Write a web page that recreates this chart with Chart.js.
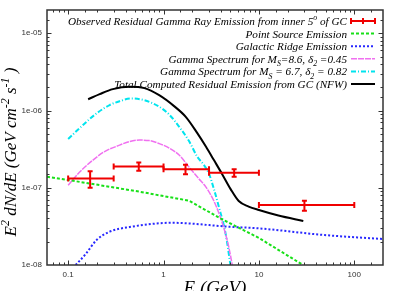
<!DOCTYPE html>
<html>
<head>
<meta charset="utf-8">
<script src="https://cdn.jsdelivr.net/npm/chart.js@4.4.1/dist/chart.umd.min.js"></script>
<style>
    html, body { margin: 0; padding: 0; background: #fff; }
    #wrap { width: 402px; height: 291px; }
</style>
</head>
<body>
<div id="wrap"><canvas id="gammaChart" width="402" height="291"></canvas></div>
<script>
// Observed residual emission from inner 5 deg of GC (GeV, GeV cm^-2 s^-1)
const obsEnergy = [0.17, 0.55, 1.7, 5.5, 30];
const obsEnergyLow = [0.1, 0.3, 1.0, 3.0, 10];
const obsEnergyHigh = [0.3, 1.0, 3.0, 10, 100];
const obsFlux = [1.32e-7, 1.89e-7, 1.73e-7, 1.56e-7, 5.97e-8];
const obsFluxLow = [1.0e-7, 1.66e-7, 1.50e-7, 1.39e-7, 5.04e-8];
const obsFluxHigh = [1.64e-7, 2.13e-7, 1.99e-7, 1.73e-7, 6.8e-8];

// Point source emission
const pointEnergy = [0.06, 0.1, 0.56, 1.0, 1.85, 3.96, 10, 29];
const pointFlux = [1.39e-7, 1.26e-7, 8.9e-8, 7.8e-8, 6.8e-8, 4.0e-8, 2.24e-8, 1.0e-8];

// Galactic ridge emission
const ridgeEnergy = [0.12, 0.153, 0.198, 0.272, 0.44, 1.23, 4.83, 10, 49, 200];
const ridgeFlux = [1.0e-8, 1.39e-8, 2.1e-8, 2.7e-8, 3.1e-8, 3.52e-8, 3.13e-8, 2.98e-8, 2.44e-8, 2.17e-8];

// Gamma spectrum, Ms = 8.6, delta2 = 0.45
const ms86Energy = [0.1, 0.132, 0.182, 0.241, 0.346, 0.44, 0.557, 0.71, 0.902, 1.147, 1.457, 1.852, 2.355, 2.786, 3.375, 3.8, 4.29, 4.83, 5.26];
const ms86Flux = [1.08e-7, 1.6e-7, 2.28e-7, 2.94e-7, 3.56e-7, 3.97e-7, 4.14e-7, 4.08e-7, 3.73e-7, 3.26e-7, 2.65e-7, 1.85e-7, 1.30e-7, 1.02e-7, 6.73e-8, 4.71e-8, 3.01e-8, 1.71e-8, 1.0e-8];

// Gamma spectrum, Ms = 6.7, delta2 = 0.82
const ms67Energy = [0.1, 0.132, 0.198, 0.272, 0.346, 0.46, 0.63, 0.90, 1.147, 1.46, 1.85, 2.26, 2.65, 2.99, 3.375, 3.8, 4.47, 5.03];
const ms67Flux = [4.27e-7, 5.92e-7, 9.16e-7, 1.175e-6, 1.32e-6, 1.43e-6, 1.36e-6, 1.12e-6, 8.85e-7, 6.15e-7, 4.02e-7, 2.52e-7, 1.97e-7, 1.53e-7, 9.6e-8, 5.68e-8, 2.57e-8, 1.0e-8];

// Total computed residual emission from GC (NFW)
const totalEnergy = [0.162, 0.214, 0.294, 0.44, 0.63, 0.90, 1.29, 1.71, 2.26, 2.80, 3.375, 4.12, 5.05, 6.14, 7.8, 10, 16, 29.2];
const totalFlux = [1.40e-6, 1.63e-6, 1.89e-6, 2.03e-6, 1.95e-6, 1.58e-6, 1.14e-6, 8.28e-7, 5.1e-7, 3.37e-7, 2.28e-7, 1.5e-7, 9.6e-8, 6.73e-8, 5.71e-8, 5.15e-8, 4.37e-8, 3.71e-8];

const xTickValues = [0.1, 1, 10, 100];
const yTickValues = [1e-8, 1e-7, 1e-6, 1e-5];

const serif = '"Liberation Serif", "DejaVu Serif", serif';
const sans = '"Liberation Sans", Arial, sans-serif';

const toPoints = (xs, ys) => xs.map((x, i) => ({ x, y: ys[i] }));
const isDecade = v => Math.abs(Math.log10(v) - Math.round(Math.log10(v))) < 1e-6;

// text with sub/superscripts: parts = [[text, ''|'sub'|'sup'], ...]
function richWidth(ctx, parts, size, style) {
    let w = 0;
    parts.forEach(([t, k]) => {
        ctx.font = `${style} ${k ? size * 0.7 : size}px ${serif}`;
        w += ctx.measureText(t).width;
    });
    return w;
}

function drawRich(ctx, parts, x, y, size, align, style) {
    const total = richWidth(ctx, parts, size, style);
    let cx = align === 'right' ? x - total : align === 'center' ? x - total / 2 : x;
    ctx.textAlign = 'left';
    ctx.textBaseline = 'alphabetic';
    parts.forEach(([t, k]) => {
        const s = k ? size * 0.7 : size;
        ctx.font = `${style} ${s}px ${serif}`;
        const dy = k === 'sub' ? size * 0.3 : k === 'sup' ? -size * 0.42 : 0;
        ctx.fillText(t, cx, y + dy);
        cx += ctx.measureText(t).width;
    });
}

// error bars for the observed points
const errorBarPlugin = {
    id: 'errorBars',
    afterDatasetsDraw(chart) {
        const { ctx, scales: { x, y } } = chart;
        ctx.save();
        ctx.strokeStyle = '#f00000';
        ctx.lineWidth = 2;
        ctx.setLineDash([]);
        obsEnergy.forEach((e, i) => {
            const px = x.getPixelForValue(e);
            const py = y.getPixelForValue(obsFlux[i]);
            const x0 = x.getPixelForValue(obsEnergyLow[i]);
            const x1 = x.getPixelForValue(obsEnergyHigh[i]);
            const y0 = y.getPixelForValue(obsFluxLow[i]);
            const y1 = y.getPixelForValue(obsFluxHigh[i]);
            ctx.beginPath();
            ctx.moveTo(x0, py); ctx.lineTo(x1, py);
            ctx.moveTo(x0, py - 3); ctx.lineTo(x0, py + 3);
            ctx.moveTo(x1, py - 3); ctx.lineTo(x1, py + 3);
            ctx.moveTo(px, y0); ctx.lineTo(px, y1);
            ctx.moveTo(px - 2.5, y0); ctx.lineTo(px + 2.5, y0);
            ctx.moveTo(px - 2.5, y1); ctx.lineTo(px + 2.5, y1);
            ctx.stroke();
        });
        ctx.restore();
    }
};

// gnuplot style frame with inward ticks on all four sides
const framePlugin = {
    id: 'frame',
    afterDraw(chart) {
        const { ctx, chartArea: a, scales: { x, y } } = chart;
        ctx.save();
        ctx.strokeStyle = '#333';
        ctx.lineWidth = 1;
        ctx.setLineDash([]);
        ctx.beginPath();
        x.ticks.forEach(t => {
            const px = Math.round(x.getPixelForValue(t.value)) + 0.5;
            if (px < a.left + 1 || px > a.right - 1) return;
            const len = isDecade(t.value) ? 4.5 : 2.5;
            ctx.moveTo(px, a.bottom); ctx.lineTo(px, a.bottom - len);
            ctx.moveTo(px, a.top); ctx.lineTo(px, a.top + len);
        });
        y.ticks.forEach(t => {
            const py = Math.round(y.getPixelForValue(t.value)) + 0.5;
            if (py < a.top + 1 || py > a.bottom - 1) return;
            const len = isDecade(t.value) ? 4.5 : 2.5;
            ctx.moveTo(a.left, py); ctx.lineTo(a.left + len, py);
            ctx.moveTo(a.right, py); ctx.lineTo(a.right - len, py);
        });
        ctx.stroke();
        ctx.lineWidth = 1.5;
        ctx.strokeRect(a.left, a.top, a.right - a.left, a.bottom - a.top);

        // axis titles
        ctx.fillStyle = '#000';
        drawRich(ctx, [['E (GeV)', '']], (a.left + a.right) / 2, 294, 19, 'center', 'italic');
        ctx.translate(16, 152);
        ctx.rotate(-Math.PI / 2);
        drawRich(ctx, [['E', ''], ['2', 'sup'], [' dN/dE (GeV cm', ''], ['-2', 'sup'], [' s', ''], ['-1', 'sup'], [' )', '']], 0, 0, 17, 'center', 'italic');
        ctx.restore();

        // key, text right aligned with line sample to the right
        ctx.save();
        chart.data.datasets.forEach((ds, i) => {
            const rowY = 21 + i * 12.6;
            ctx.fillStyle = '#000';
            drawRich(ctx, ds.legendParts, 347, rowY + 4, 11.2, 'right', 'italic');
            ctx.beginPath();
            ctx.strokeStyle = ds.borderColor;
            ctx.lineWidth = ds.borderWidth;
            ctx.setLineDash(ds.borderDash || []);
            ctx.moveTo(351, rowY); ctx.lineTo(375, rowY);
            if (ds.errorBars) {
                ctx.moveTo(351, rowY - 3); ctx.lineTo(351, rowY + 3);
                ctx.moveTo(363, rowY - 3); ctx.lineTo(363, rowY + 3);
                ctx.moveTo(375, rowY - 3); ctx.lineTo(375, rowY + 3);
            }
            ctx.stroke();
        });
        ctx.restore();
    }
};

const lineDefaults = { pointRadius: 0, fill: false, cubicInterpolationMode: 'monotone' };

new Chart(document.getElementById('gammaChart'), {
    type: 'line',
    data: {
        datasets: [
            {
                legendParts: [['Observed Residual Gamma Ray Emission from inner 5', ''], ['o', 'sup'], [' of GC', '']],
                data: toPoints(obsEnergy, obsFlux),
                showLine: false, pointRadius: 0,
                borderColor: '#f00000', borderWidth: 2, errorBars: true
            },
            {
                ...lineDefaults,
                legendParts: [['Point Source Emission', '']],
                data: toPoints(pointEnergy, pointFlux),
                cubicInterpolationMode: 'default', tension: 0,
                borderColor: '#18e018', borderWidth: 2, borderDash: [3, 2]
            },
            {
                ...lineDefaults,
                legendParts: [['Galactic Ridge Emission', '']],
                data: toPoints(ridgeEnergy, ridgeFlux),
                borderColor: '#2828ff', borderWidth: 2, borderDash: [2, 2]
            },
            {
                ...lineDefaults,
                legendParts: [['Gamma Spectrum for M', ''], ['S', 'sub'], ['=8.6, δ', ''], ['2', 'sub'], [' =0.45', '']],
                data: toPoints(ms86Energy, ms86Flux),
                borderColor: '#f070f0', borderWidth: 1.5, borderDash: [6, 1]
            },
            {
                ...lineDefaults,
                legendParts: [['Gamma Spectrum for M', ''], ['S', 'sub'], [' = 6.7, δ', ''], ['2', 'sub'], [' = 0.82', '']],
                data: toPoints(ms67Energy, ms67Flux),
                borderColor: '#00e4ee', borderWidth: 2, borderDash: [5, 2, 1, 2]
            },
            {
                ...lineDefaults,
                legendParts: [['Total Computed Residual Emission from GC (NFW)', '']],
                data: toPoints(totalEnergy, totalFlux),
                borderColor: '#000', borderWidth: 2
            }
        ]
    },
    options: {
        responsive: false,
        animation: false,
        devicePixelRatio: 1,
        layout: { padding: { left: 0, right: 19, top: 10, bottom: 0 } },
        plugins: { legend: { display: false }, tooltip: { enabled: false } },
        scales: {
            x: {
                type: 'logarithmic', min: 0.06, max: 200,
                grid: { display: false, drawTicks: false },
                border: { display: false },
                ticks: {
                    autoSkip: false, maxRotation: 0, padding: 5,
                    color: '#333', font: { family: sans, size: 8 },
                    callback: v => xTickValues.some(t => Math.abs(t - v) / t < 1e-6) ? String(v) : ''
                },
                afterFit: s => { s.height = 26; }
            },
            y: {
                type: 'logarithmic', min: 1e-8, max: 2e-5,
                grid: { display: false, drawTicks: false },
                border: { display: false },
                ticks: {
                    autoSkip: false, padding: 5,
                    color: '#333', font: { family: sans, size: 8 },
                    callback: v => {
                        if (!yTickValues.some(t => Math.abs(t - v) / t < 1e-6)) return '';
                        const e = Math.round(Math.log10(v));
                        return '1e-' + String(-e).padStart(2, '0');
                    }
                },
                afterFit: s => { s.width = 47; }
            }
        }
    },
    plugins: [errorBarPlugin, framePlugin]
});
</script>
</body>
</html>
